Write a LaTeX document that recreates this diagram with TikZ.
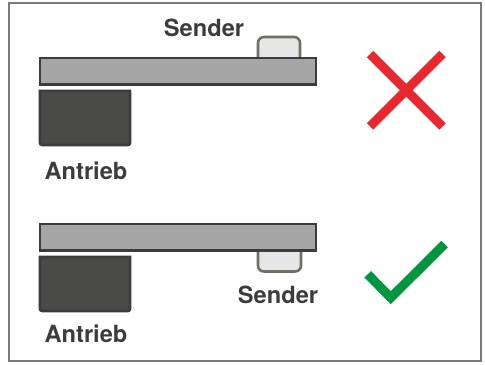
\documentclass[tikz,border=0pt]{standalone}
\usepackage{fontspec}
\setmainfont{TeX Gyre Heros}
\definecolor{dunkel}{HTML}{3C3C3B}
\definecolor{motor}{HTML}{4A4A49}
\definecolor{balken}{HTML}{A6A6A6}
\definecolor{sender}{HTML}{E6E6E6}
\definecolor{senderrand}{HTML}{706F66}
\definecolor{rahmen}{HTML}{7A7A7A}
\definecolor{falsch}{HTML}{E8282E}
\definecolor{richtig}{HTML}{009640}
\begin{document}
\begin{tikzpicture}[x=0.03cm,y=-0.03cm,
		beschriftung/.style={text=dunkel,font=\fontsize{20.2}{21}\selectfont\bfseries,inner sep=0pt},
		balkenform/.style={draw=dunkel,fill=balken,line width=2.5pt},
		motorform/.style={draw=dunkel,fill=motor,line width=2.4pt},
		senderform/.style={draw=senderrand,fill=sender,line width=2.2pt},
		zeichen/.style={line width=7.8pt}]
		\useasboundingbox (0,0) rectangle (485,364);
		% Rahmen
		\draw[rahmen,line width=2.4pt] (9,3) rectangle (481,361);
		
		% Oben
		\draw[senderform,rounded corners=5pt] (258,57) -- (258,37) -- (300,37) -- (300,57);
		\draw[balkenform] (40,58) rectangle (316,84.5);
		\draw[motorform] (40,91) -- (130,91) [rounded corners=2pt] -- (130,145) -- (40,145) [sharp corners] -- (40,91) -- cycle;
		\node[beschriftung] (senderoben) at (204,28) {Sender};
		\node[beschriftung] (antrieboben) at (86,171) {Antrieb};
		\draw[falsch,zeichen] (370,54) -- (442.5,126.5);
		\draw[falsch,zeichen] (442.5,54) -- (370,126.5);
		
		% Unten
		\draw[senderform,rounded corners=5pt] (258,251) -- (258,271.5) -- (301,271.5) -- (301,251);
		\draw[balkenform] (40,224) rectangle (316,250.5);
		\draw[motorform] (40,257) -- (130,257) [rounded corners=2pt] -- (130,311) -- (40,311) [sharp corners] -- (40,257) -- cycle;
		\node[beschriftung] (senderunten) at (278,295) {Sender};
		\node[beschriftung] (antriebunten) at (86,334) {Antrieb};
		\draw[richtig,zeichen] (367.7,274.3) -- (390.7,297.7) -- (444.7,244);
	\end{tikzpicture}
\end{document}
